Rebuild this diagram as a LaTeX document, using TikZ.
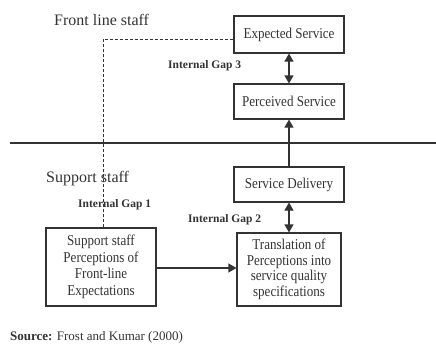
\documentclass[tikz,border=0pt]{standalone}
\usepackage{fontspec}
\setmainfont{Liberation Serif}
\newfontfamily\boxfont{Liberation Serif}[FakeStretch=0.87]
\usetikzlibrary{arrows.meta}
\begin{document}
\begin{tikzpicture}[x=1pt,y=-1pt,
  box/.style={draw=black!80,line width=1.1pt,rectangle,align=center,inner sep=1pt,font=\boxfont\fontsize{15}{15.5}\selectfont,text=black!80},
  head/.style={inner sep=0pt,anchor=base west,font=\fontsize{16}{18}\selectfont,text=black!80},
  gap/.style={inner sep=0pt,anchor=base west,font=\bfseries\fontsize{11.5}{14}\selectfont,text=black!80},
  conn/.style={draw=black!80,line width=1.1pt},
  arr/.style={conn,-{Triangle[length=8pt,width=9pt]}},
  darr/.style={conn,{Triangle[length=8pt,width=9pt]}-{Triangle[length=8pt,width=9pt]}}]
\useasboundingbox (0,0) rectangle (436,343);
\node[box,minimum width=110pt,minimum height=37pt] (exp) at (289,34.5) {Expected Service};
\node[box,minimum width=110pt,minimum height=35pt] (perc) at (289,101.5) {Perceived Service};
\node[box,minimum width=110pt,minimum height=35pt] (deliv) at (289,184.5) {Service Delivery};
\node[box,minimum width=104pt,minimum height=73pt,font=\boxfont\fontsize{15}{15.5}\selectfont] (trans) at (289,269.5) {Translation of\\Perceptions into\\service quality\\specifications};
\node[box,minimum width=110pt,minimum height=78pt,font=\boxfont\fontsize{15}{16.5}\selectfont] (supp) at (101,267) {Support staff\\Perceptions of\\Front-line\\Expectations};
\coordinate (lineL) at (10,143);
\coordinate (lineR) at (436,143);
\draw[conn] (lineL) -- (lineR);
\coordinate (corner) at (103,39);
\draw[conn,dashed,line width=0.8pt,dash pattern=on 3pt off 2pt] (supp.north -| corner) -- (corner) -- (exp.west |- corner);
\draw[darr] (exp.south) -- (perc.north);
\draw[arr] (deliv.north) -- (perc.south);
\draw[darr] (deliv.south) -- (trans.north);
\draw[arr] (supp.east |- 0,268) -- (trans.west |- 0,268);
\node[head] (fls) at (54,25.5) {Front line staff};
\node[head] (ss) at (46,182) {Support staff};
\node[gap] (g3) at (168,68) {Internal Gap 3};
\node[gap] (g1) at (78,207) {Internal Gap 1};
\node[gap] (g2) at (188,222) {Internal Gap 2};
\node[inner sep=0pt,anchor=base west,font=\fontsize{13}{15}\selectfont,text=black!80] (src) at (10,340) {\textbf{Source:} Frost and Kumar (2000)};
\end{tikzpicture}
\end{document}
